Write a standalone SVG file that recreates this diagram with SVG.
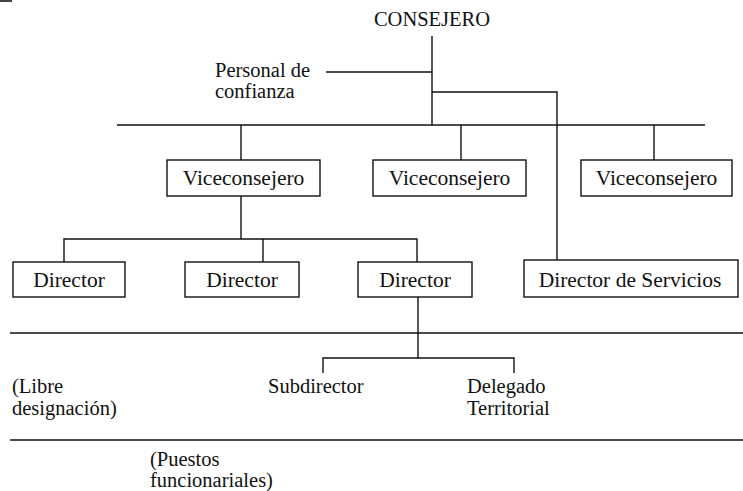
<svg xmlns="http://www.w3.org/2000/svg" width="743" height="491" viewBox="0 0 743 491">
<style>
text{font-family:"Liberation Serif","Times New Roman",serif;font-size:20.5px;fill:#111}
.b{font-size:21.5px;text-anchor:middle}
.c{text-anchor:middle}
.box{fill:#fff;stroke:#111;stroke-width:1.4}
.ln{stroke:#111;stroke-width:1.4;fill:none}
</style>
<rect x="0" y="0" width="12" height="2" fill="#444"/>
<g id="connectors">
<path class="ln" d="M432 36V125"/>
<path class="ln" d="M326 72H432"/>
<path class="ln" d="M432 92H557V260"/>
<path class="ln" d="M117 125H705"/>
<path class="ln" d="M241 125V160"/>
<path class="ln" d="M461 125V160"/>
<path class="ln" d="M654 125V160"/>
<path class="ln" d="M241 196V239"/>
<path class="ln" d="M64 262V239H417V262"/>
<path class="ln" d="M263 239V262"/>
<path class="ln" d="M418 297V358"/>
<path class="ln" d="M323 373V358H514V373"/>
<path class="ln" d="M10 333H743"/>
<path class="ln" d="M10 440H743"/>
</g>
<g id="consejero"><text class="c" x="432" y="26">CONSEJERO</text></g>
<g id="personal"><text x="215" y="77">Personal de</text><text x="215" y="98">confianza</text></g>
<g id="vice1"><rect class="box" x="167" y="160" width="153" height="36"/><text class="b" x="243.5" y="185">Viceconsejero</text></g>
<g id="vice2"><rect class="box" x="373" y="160" width="153" height="36"/><text class="b" x="449.5" y="185">Viceconsejero</text></g>
<g id="vice3"><rect class="box" x="581" y="160" width="151" height="36"/><text class="b" x="656.5" y="185">Viceconsejero</text></g>
<g id="dir1"><rect class="box" x="13" y="262" width="112" height="35"/><text class="b" x="69" y="287">Director</text></g>
<g id="dir2"><rect class="box" x="185" y="262" width="114" height="35"/><text class="b" x="242" y="287">Director</text></g>
<g id="dir3"><rect class="box" x="358" y="262" width="114" height="35"/><text class="b" x="415" y="287">Director</text></g>
<g id="dirserv"><rect class="box" x="524" y="260" width="214" height="37"/><text class="b" x="630" y="287">Director de Servicios</text></g>
<g id="subdirector"><text x="268" y="393">Subdirector</text></g>
<g id="delegado"><text x="467" y="393">Delegado</text><text x="467" y="415">Territorial</text></g>
<g id="libre"><text x="12" y="393">(Libre</text><text x="12" y="415">designación)</text></g>
<g id="puestos"><text x="150" y="466">(Puestos</text><text x="150" y="487">funcionariales)</text></g>
</svg>
